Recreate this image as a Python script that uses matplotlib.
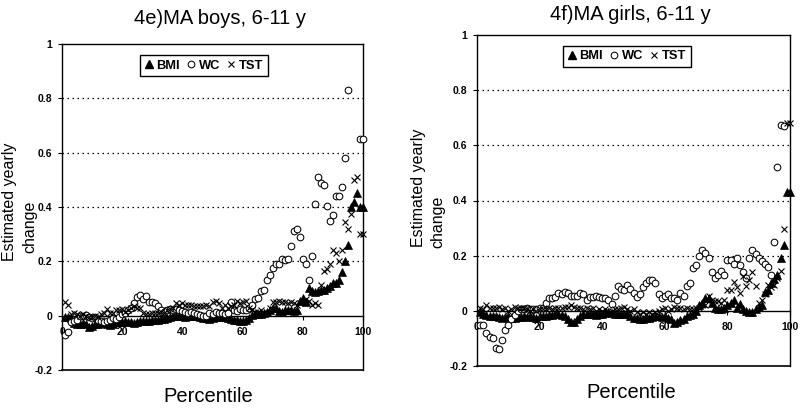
import numpy as np
import matplotlib
matplotlib.use("Agg")
import matplotlib.pyplot as plt
from matplotlib.lines import Line2D

plt.rcParams['font.family'] = ['Liberation Sans', 'DejaVu Sans']

percentiles = list(range(1, 101))
nan = float('nan')

boys_bmi = [-0.005, -0.005, -0.008,
            -0.028, -0.03, -0.03, -0.028, -0.032,
            -0.04, -0.038,
            -0.032, -0.03, -0.028, -0.025, -0.03, -0.033,
            -0.03, -0.025, -0.022, -0.022, -0.02, -0.022, -0.025, -0.028, -0.025,
            -0.02, -0.02, -0.018, -0.018, -0.017, -0.015, -0.015, -0.013, -0.012, -0.008,
            -0.005, -0.003, -0.002, -0.002, -0.003, -0.004, -0.002, 0.0, -0.002, -0.003, -0.005, -0.008,
            -0.01, -0.012, -0.01,
            -0.005, -0.005, -0.005, -0.006, -0.008,
            -0.012, -0.015, -0.017, -0.02, -0.018, -0.015,
            -0.008,
            0.003, 0.005, 0.005, 0.007,
            0.01, 0.012, 0.02,
            0.03, 0.03,
            0.018, 0.015, 0.02, 0.022, 0.02, 0.018, 0.02,
            0.055, 0.065, 0.05,
            0.1, 0.09, 0.088, 0.09, 0.095, 0.095, 0.1, 0.11, 0.12, 0.12, 0.13,
            0.16, 0.2, 0.26, 0.4, 0.42, 0.45, 0.4, 0.4]

boys_wc = [-0.073, -0.06,
           -0.025, -0.02, -0.015,
           -0.002, 0.0, 0.003, -0.005, -0.01, -0.005, -0.015,
           -0.02, -0.025, -0.02, -0.015, -0.01, -0.012,
           -0.005, 0.005, 0.01, 0.02,
           0.03, 0.045, 0.07, 0.075, 0.06, 0.072, 0.05, 0.05, 0.045, 0.035, 0.02, 0.015, 0.02,
           0.025, 0.022, 0.025, 0.02, 0.018, 0.015, 0.01, 0.012, 0.01, 0.005, 0.002, 0.0,
           0.0, 0.01, 0.005, 0.012, 0.01, 0.008, 0.005, 0.01,
           0.052, 0.02, 0.018, 0.025, 0.022, 0.02, 0.03, 0.04,
           0.06, 0.065, 0.09, 0.095, 0.13, 0.15, 0.175, 0.19, 0.19, 0.21, 0.205, 0.21,
           0.255, 0.31, 0.32, 0.29, 0.21, 0.19, 0.13, 0.22, 0.41, 0.51,
           0.49, 0.48, 0.405, 0.35, 0.37, 0.44, 0.44, 0.475, 0.58, 0.83,
           nan, nan, nan, 0.65, 0.65]

boys_tst = [0.05, 0.04, 0.005, 0.01, 0.005, 0.0, 0.005, 0.0, -0.005, -0.005,
            0.0, -0.005, 0.005, 0.01, 0.025, 0.01, 0.01, 0.02, 0.02, 0.025,
            0.015, 0.02, 0.03, 0.035, 0.03, 0.03, 0.01, 0.005, 0.005, 0.01,
            0.01, 0.01, 0.015, 0.01, 0.02, 0.025, 0.03, 0.045, 0.04, 0.045,
            0.04, 0.04, 0.04, 0.035, 0.035, 0.035, 0.035, 0.04, 0.035, 0.05,
            0.055, 0.045, 0.03, 0.04, 0.03, 0.035, 0.04, 0.055, 0.045, 0.05,
            0.055, 0.03, 0.02, 0.015, 0.015, 0.02, 0.01, 0.01, 0.03, 0.05,
            0.05, 0.055, 0.05, 0.05, 0.045, 0.05, 0.045, 0.04, 0.045, 0.05,
            0.06, 0.055, 0.04, 0.045, 0.04, 0.113, 0.165, 0.17, 0.19, 0.24,
            0.23, 0.2, 0.24, 0.345, 0.32, 0.375, 0.5, 0.51, 0.3, 0.3]

girls_bmi = [-0.005, -0.01, -0.015, -0.02, -0.02, -0.02, -0.022, -0.025, -0.022, -0.02,
             -0.025, -0.025, -0.022, -0.022, -0.02, -0.022, -0.02, -0.022, -0.025, -0.02,
             -0.02, -0.018, -0.015, -0.015, -0.012, -0.012, -0.015, -0.02, -0.03, -0.04,
             -0.04, -0.03, -0.02, -0.012, -0.01, -0.012, -0.012, -0.015, -0.012, -0.01,
             -0.008, -0.005, -0.008, -0.01, -0.012, -0.01, -0.01, -0.012, -0.02, -0.025,
             -0.025, -0.028, -0.028, -0.025, -0.025, -0.022, -0.02, -0.02, -0.022, -0.02,
             -0.025, -0.03, -0.045, -0.04, -0.035, -0.03, -0.02, -0.015, -0.01, 0.0,
             0.02, 0.03, 0.045, 0.045, 0.03, 0.01, 0.005, 0.005, 0.01, 0.02,
             0.03, 0.04, 0.01, 0.025, 0.005, 0.0, -0.005, -0.005, 0.005, 0.015,
             0.02, 0.07, 0.075, 0.1, 0.115, 0.13, 0.19, 0.24, 0.43, 0.43]

girls_wc = [-0.05, -0.05, -0.08, -0.095, -0.1, -0.135, -0.14, -0.105, -0.07, -0.05,
            -0.03, -0.015, 0.0, 0.005, 0.005, 0.01, 0.005, 0.005, 0.005, 0.01,
            0.01, 0.03, 0.045, 0.045, 0.05, 0.065, 0.06, 0.07, 0.065, 0.055,
            0.055, 0.055, 0.065, 0.06, 0.04, 0.05, 0.05, 0.055, 0.05, 0.045,
            0.045, 0.04, 0.025, 0.055, 0.09, 0.08, 0.075, 0.095, 0.08, 0.065,
            0.05, 0.06, 0.085, 0.1, 0.11, 0.11, 0.1, 0.06, 0.045, 0.055,
            0.06, 0.045, 0.045, 0.04, 0.065, 0.055, 0.09, 0.1, 0.155,
            0.165, 0.2, 0.22, 0.21, 0.19, 0.14, 0.12, 0.13, 0.145, 0.13,
            0.185, 0.185, 0.17, 0.19, 0.165, 0.14, 0.12, 0.19, 0.22, 0.205,
            0.19, 0.18, 0.17, 0.16, 0.13, 0.25, 0.52, 0.675, 0.67, nan, nan]

girls_tst = [0.01, 0.005, 0.02, 0.01, 0.01, 0.01, 0.015, 0.005, 0.01, 0.0,
             0.005, 0.015, 0.01, 0.01, 0.01, 0.005, 0.0, 0.005, 0.0, 0.005,
             0.005, 0.005, 0.01, 0.005, 0.01, 0.01, 0.01, 0.015, 0.015, 0.02,
             0.015, 0.01, 0.01, 0.005, 0.01, 0.005, 0.01, 0.0, 0.005, 0.0,
             0.005, 0.0, 0.0, 0.005, 0.005, 0.01, 0.015, 0.005, 0.0, 0.005,
             -0.005, -0.01, -0.005, -0.01, -0.005, -0.01, -0.005, 0.0, 0.005, 0.01,
             0.0, 0.005, 0.015, 0.01, 0.01, 0.005, 0.01, 0.005, 0.005, 0.01,
             0.01, 0.02, 0.02, 0.055, 0.04, 0.035, 0.035, 0.03, 0.04, 0.075,
             0.075, 0.105, 0.085, 0.065, 0.125, 0.09, 0.11, 0.14, 0.09, 0.03,
             0.04, 0.06, 0.095, 0.085, 0.095, 0.12, 0.145, 0.295, 0.68, 0.68]

y_ticks = [-0.2, 0, 0.2, 0.4, 0.6, 0.8, 1]
y_ticklabels = ['-0.2', '0', '0.2', '0.4', '0.6', '0.8', '1']
x_ticks = [0, 20, 40, 60, 80, 100]
series_names = ['BMI', 'WC', 'TST']

W, H = 800, 409
fig = plt.figure(figsize=(8, 4.09), dpi=100)


def px_ax(x0, y0, x1, y1):
    return fig.add_axes([x0 / W, 1 - y1 / H, (x1 - x0) / W, (y1 - y0) / H])


def draw(ax, bmi, wc, tst, leg_center):
    x = np.array(percentiles)
    ax.plot(x, bmi, linestyle='none', marker='^', ms=5.5, mfc='black', mec='black', mew=0.5, clip_on=False, zorder=3)
    ax.plot(x, wc, linestyle='none', marker='o', ms=4.8, mfc='white', mec='black', mew=0.75, clip_on=False, zorder=3)
    ax.plot(x, tst, linestyle='none', marker='x', ms=3.8, color='black', mew=0.8, clip_on=False, zorder=3)
    ax.set_xlim(0, 100)
    ax.set_ylim(-0.2, 1)
    for g in [0.2, 0.4, 0.6, 0.8]:
        ax.axhline(g, color='black', lw=0.9, linestyle=(0, (1.2, 2.8)), zorder=1)
    ax.axhline(-0.2, color='black', lw=1.2, clip_on=False, zorder=2)
    ax.spines['bottom'].set_position(('data', 0))
    for s in ['left', 'right', 'top', 'bottom']:
        ax.spines[s].set_linewidth(1.0)
        ax.spines[s].set_color('black')
    ax.set_yticks(y_ticks)
    ax.set_yticklabels(y_ticklabels)
    ax.set_xticks(x_ticks)
    ax.set_xticklabels([str(t) for t in x_ticks])
    ax.tick_params(axis='y', direction='out', length=3, width=0.8, pad=4, labelsize=7.5)
    ax.tick_params(axis='x', direction='out', length=3, width=0.8, pad=5, labelsize=7.5)
    for lab in ax.get_xticklabels() + ax.get_yticklabels():
        lab.set_fontweight('bold')
    handles = [Line2D([], [], linestyle='none', marker='^', ms=5.5, mfc='black', mec='black'),
               Line2D([], [], linestyle='none', marker='o', ms=4.8, mfc='white', mec='black', mew=0.75),
               Line2D([], [], linestyle='none', marker='x', ms=3.8, color='black', mew=0.8)]
    leg = ax.legend(handles, series_names, ncol=3, loc='upper center', bbox_to_anchor=leg_center,
                    frameon=True, fancybox=False, edgecolor='black', framealpha=1,
                    prop={'weight': 'bold', 'size': 9.3}, handlelength=0.6, handletextpad=0.3,
                    columnspacing=0.55, borderpad=0.35, borderaxespad=0)
    leg.get_frame().set_linewidth(1.0)


axL = px_ax(62, 44, 363, 370)
draw(axL, boys_bmi, boys_wc, boys_tst, (0.472, 0.966))
axR = px_ax(477, 35, 790, 366)
draw(axR, girls_bmi, girls_wc, girls_tst, (0.479, 0.967))

# titles
fig.text(220 / W, 1 - 18 / H, '4e)MA boys, 6-11 y', ha='center', va='center', fontsize=14.5)
fig.text(630 / W, 1 - 14 / H, '4f)MA girls, 6-11 y', ha='center', va='center', fontsize=14.5)
# x labels
fig.text(208 / W, 1 - 397 / H, 'Percentile', ha='center', va='center', fontsize=14.5)
fig.text(631 / W, 1 - 392 / H, 'Percentile', ha='center', va='center', fontsize=14.5)
# y labels
fig.text(10 / W, 1 - 202 / H, 'Estimated yearly', ha='center', va='center', rotation=90, fontsize=11.5)
fig.text(30 / W, 1 - 227 / H, 'change', ha='center', va='center', rotation=90, fontsize=11.5)
fig.text(418 / W, 1 - 188 / H, 'Estimated yearly', ha='center', va='center', rotation=90, fontsize=11.5)
fig.text(438 / W, 1 - 222 / H, 'change', ha='center', va='center', rotation=90, fontsize=11.5)

fig.savefig('out.png', dpi=100, facecolor='white')
